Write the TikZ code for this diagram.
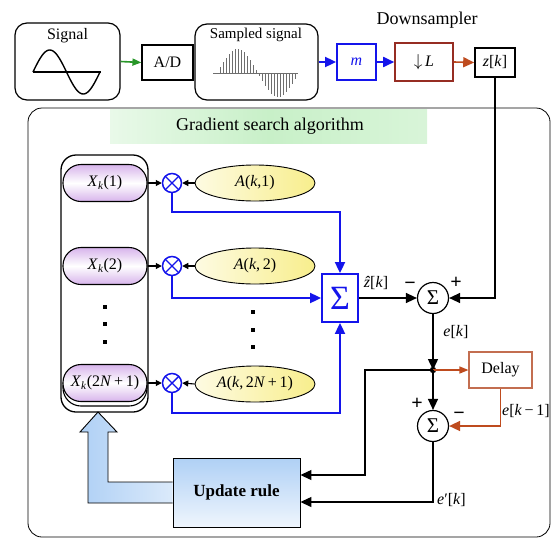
\documentclass[tikz,border=0pt]{standalone}
\usepackage{fontspec}
\setmainfont{Liberation Serif}
\usetikzlibrary{arrows.meta,shapes.geometric,calc}
\definecolor{myblue}{RGB}{20,20,235}
\definecolor{mygreen}{RGB}{40,150,40}
\definecolor{dred}{RGB}{150,45,35}
\definecolor{rust}{RGB}{190,75,30}
\definecolor{delaybrd}{RGB}{195,110,80}
\definecolor{lav}{RGB}{215,180,235}
\definecolor{yel}{RGB}{248,238,140}
\definecolor{ltblue}{RGB}{175,208,245}
\definecolor{ltgreen}{RGB}{200,240,200}
\definecolor{stemgray}{RGB}{110,110,110}
\tikzset{
  lbl/.style={font=\fontsize{16}{18}\selectfont, inner sep=0pt},
  rbox/.style={draw, line width=1.2pt, rounded corners=12pt, inner sep=0pt},
  sbox/.style={draw, line width=1.2pt, inner sep=0pt, font=\fontsize{16}{18}\selectfont},
  pill/.style={draw, line width=1.1pt, rounded corners=18pt, minimum width=84pt, minimum height=37pt,
     top color=lav, bottom color=lav, middle color=white, inner sep=0pt, font=\fontsize{16}{18}\selectfont},
  coeff/.style={draw, ellipse, line width=0.9pt, minimum width=120pt, minimum height=36pt,
     left color=yel!25, right color=yel, inner sep=0pt, font=\fontsize{16}{18}\selectfont},
  mult/.style={draw=myblue, circle, line width=1.5pt, minimum size=19pt, inner sep=0pt,
     path picture={\draw[myblue, line width=1.4pt]
        ($(path picture bounding box.north west)!0.15!(path picture bounding box.south east)$) --
        ($(path picture bounding box.north west)!0.85!(path picture bounding box.south east)$)
        ($(path picture bounding box.north east)!0.15!(path picture bounding box.south west)$) --
        ($(path picture bounding box.north east)!0.85!(path picture bounding box.south west)$);}},
  sumc/.style={draw, circle, line width=1.2pt, minimum size=31pt, inner sep=0pt, font=\fontsize{21}{21}\selectfont},
  bigarr/.style={-{Triangle[length=11pt,width=10pt]}},
  smallarr/.style={-{Triangle[length=6pt,width=6pt]}},
  sign/.style={font=\bfseries\fontsize{20}{20}\selectfont, inner sep=0pt},
  dotsq/.style={fill=black, minimum size=4.5pt, inner sep=0pt},
}
\begin{document}
\begin{tikzpicture}[x=1pt,y=-1pt]
\useasboundingbox (0,0) rectangle (553,541);
% top chain
\node[rbox, minimum width=105pt, minimum height=77pt] (sig) at (67.5,61.5) {};
\node[lbl] (sigt) at (67.5,36) {Signal};
\draw[line width=1.1pt] (33,72) -- (101,72);
\draw[line width=1.4pt, domain=0:360, samples=60, smooth] plot ({33+\x/360*67}, {72-22*sin(\x)});
\node[sbox, minimum width=51pt, minimum height=35pt] (ad) at (167.5,62.5) {A/D};
\node[rbox, minimum width=123pt, minimum height=76pt] (samp) at (256.5,62) {};
\node[lbl, font=\fontsize{15}{17}\selectfont] (sampt) at (256,35) {Sampled signal};
\draw[stemgray, line width=0.8pt] (213,73) -- (298,73);
\foreach \i in {0,...,26} {
  \pgfmathsetmacro{\xx}{217+3*\i}
  \pgfmathsetmacro{\yy}{73-24*sin(360*\i/27)}
  \draw[stemgray, line width=0.9pt] (\xx,73) -- (\xx,\yy);
}
\node[sbox, draw=myblue, line width=1.8pt, minimum width=39pt, minimum height=36pt, text=myblue] (mb) at (356.5,62) {\textit{m}};
\node[sbox, draw=dred, line width=1.6pt, minimum width=58pt, minimum height=38pt] (dl) at (424,62) {$\downarrow$\,\textit{L}};
\node[sbox, line width=1.6pt, minimum width=40pt, minimum height=29pt] (zk) at (495,62.5) {\textit{z}[\textit{k}]};
\node[lbl, font=\fontsize{18}{20}\selectfont] (ds) at (427,20) {Downsampler};
\draw[mygreen, line width=1.6pt, -{Triangle[length=9pt,width=7pt]}] (sig.east) -- (ad.west);
\draw[myblue, line width=1.8pt, bigarr] (samp.east) -- (mb.west);
\draw[myblue, line width=1.8pt, bigarr] (mb.east) -- (dl.west);
\draw[rust, line width=1.6pt, bigarr] (dl.east) -- (zk.west);
% outer frame
\draw[line width=0.8pt, rounded corners=14pt] (28,108) rectangle (550,537);
\shade[left color=ltgreen!40, right color=ltgreen!70, middle color=ltgreen] (110,109) rectangle (427,143);
\node[lbl, font=\fontsize{18}{20}\selectfont] (gs) at (270,126) {Gradient search algorithm};
% column
\draw[line width=1.3pt, rounded corners=15pt] (61,155) rectangle (148,412);
\node[pill] (x1) at (105,183) {\textit{X}\textsubscript{\textit{k}}(1)};
\node[pill] (x2) at (105,266) {\textit{X}\textsubscript{\textit{k}}(2)};
\draw[line width=1.1pt, rounded corners=18pt] (63,368) rectangle (147,406);
\node[pill] (x3) at (105,383) {\textit{X}\textsubscript{\textit{k}}(2\textit{N}\,+\,1)};
\node[dotsq] (d1) at (105,307) {};
\node[dotsq] (d2) at (105,324) {};
\node[dotsq] (d3) at (105,342) {};
% multipliers and coefficients
\node[mult] (m1) at (172,183) {};
\node[mult] (m2) at (172,266) {};
\node[mult] (m3) at (172,383) {};
\node[coeff] (a1) at (255,183) {\textit{A}(\textit{k},1)};
\node[coeff] (a2) at (255,266) {\textit{A}(\textit{k},\,2)};
\node[coeff] (a3) at (255,384) {\textit{A}(\textit{k},\,2\textit{N}\,+\,1)};
\node[dotsq] (e1) at (253,312) {};
\node[dotsq] (e2) at (253,330) {};
\node[dotsq] (e3) at (253,347) {};
\foreach \k in {1,2,3} {
  \draw[line width=1.1pt, smallarr] (x\k.east) -- (m\k.west);
  \draw[line width=1.1pt, smallarr] (a\k.west) -- (m\k.east);
}
% summation box
\node[sbox, draw=myblue, line width=1.8pt, minimum width=36pt, minimum height=48pt, text=myblue,
      font=\fontsize{34}{34}\selectfont] (sb) at (340,298) {Σ};
\draw[myblue, line width=1.8pt, bigarr] (m1.south) |- (340,212) -- (sb.north);
\draw[myblue, line width=1.8pt, bigarr] (m2.south) |- (sb.west);
\draw[myblue, line width=1.8pt, bigarr] (m3.south) |- (340,413) -- (sb.south);
\node[lbl] (zh) at (376,283) {\textit{\^{z}}[\textit{k}]};
% error computation
\node[sumc] (s1) at (433,298) {Σ};
\draw[line width=1.4pt, bigarr] (sb.east) -- (s1.west);
\draw[line width=1.4pt, bigarr] (zk.south) |- (s1.east);
\node[sign] (s1m) at (410,286) {−};
\node[sign] (s1p) at (456,283) {+};
\coordinate (jn) at (433,370);
\fill (jn) circle (3.2pt);
\draw[line width=1.4pt, bigarr] (s1.south) -- (jn);
\node[lbl] (ek) at (456,332) {\textit{e}[\textit{k}]};
\node[sbox, draw=delaybrd, line width=1.1pt, minimum width=63pt, minimum height=36pt] (dly) at (500.5,370) {Delay};
\draw[rust, line width=1.4pt, -{Triangle[length=9pt,width=7pt]}] (jn) -- (dly.west);
\node[sumc] (s2) at (433,426) {Σ};
\draw[line width=1.4pt, bigarr] (jn) -- (s2.north);
\draw[rust, line width=1.6pt, bigarr] (dly.south) |- (s2.east);
\node[sign] (s2p) at (417,404) {+};
\node[sign] (s2m) at (459,416) {−};
\node[lbl, anchor=west] (ek1) at (502,411) {\textit{e}[\textit{k}\,−\,1]};
% update rule
\node[draw, line width=0.9pt, minimum width=127pt, minimum height=69pt, top color=ltblue, bottom color=ltblue!20,
      inner sep=0pt, font=\bfseries\fontsize{17}{19}\selectfont] (upd) at (236.5,492.5) {Update rule};
\draw[line width=1.3pt, bigarr] (jn) -| (365,475) -- (upd.east |- 0,475);
\draw[line width=1.3pt, bigarr] (s2.south) |- (upd.east |- 0,502);
\node[lbl, anchor=west] (epk) at (437,500) {\textit{e}′[\textit{k}]};
% hollow arrow
\draw[line width=0.9pt, left color=ltblue, right color=ltblue!45]
  (upd.west |- 0,482) -- (108,482) -- (108,432) -- (117,432) -- (98,412) -- (80,432) -- (88,432)
  -- (88,503) -- (upd.west |- 0,503);
\end{tikzpicture}
\end{document}
